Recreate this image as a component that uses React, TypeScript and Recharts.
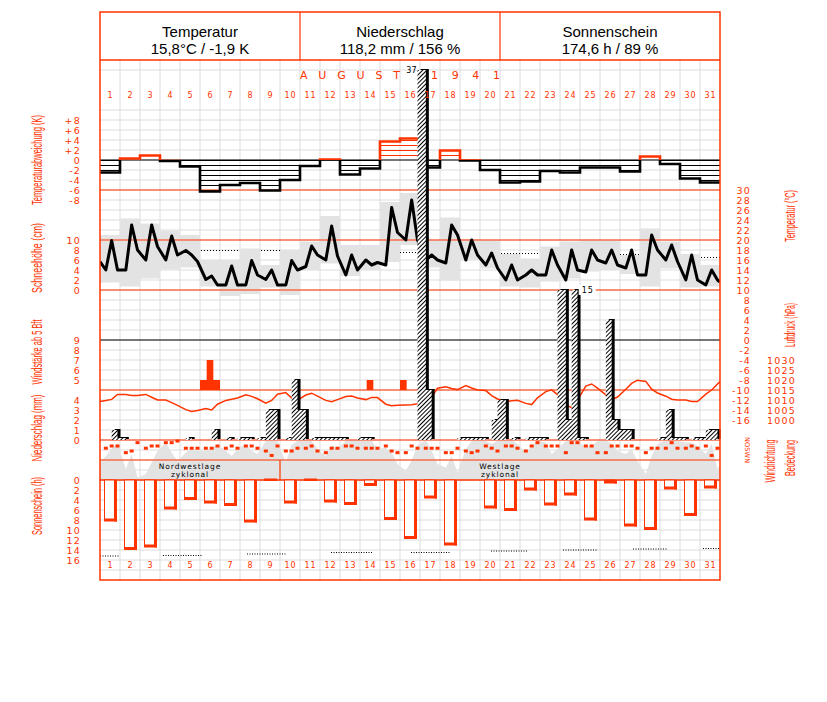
import React from 'react';
import {
  ComposedChart, BarChart, Bar, Area, Line, Scatter, XAxis, YAxis,
  CartesianGrid, ReferenceLine, ReferenceArea,
} from 'recharts';

const RED = '#ff3300';
const GREY = '#e3e3e3';
const GRID = '#dcdcdc';
const W = 827;
const H = 702;
const MARGIN = { top: 60, right: 107, bottom: 122, left: 100 };
const SANS = '"Liberation Sans", Arial, sans-serif';
const PIX = '"DejaVu Sans", sans-serif';

// ---------------- data ----------------
const days = ['1', '2', '3', '4', '5', '6', '7', '8', '9', '10', '11', '12', '13', '14', '15', '16',
  '17', '18', '19', '20', '21', '22', '23', '24', '25', '26', '27', '28', '29', '30', '31'];

const header = [
  { title: 'Temperatur', value: '15,8°C / -1,9 K', cx: 200 },
  { title: 'Niederschlag', value: '118,2 mm / 156 %', cx: 400 },
  { title: 'Sonnenschein', value: '174,6 h / 89 %', cx: 610 },
];
const monthName = 'AUGUST';
const yearName = '1941';

// daily temperature anomaly (K)
const anomalyK = [-2.5, 0.3, 0.9, -0.2, -1.3, -6.3, -5.0, -4.6, -6.1, -4.0, -1.2, 0.1, -2.9, -1.7, 3.7, 4.3,
  -1.5, 1.9, -0.1, -2.0, -4.5, -4.3, -2.2, -2.5, -1.5, -1.5, -2.3, 0.7, -0.8, -3.7, -4.5];

// temperature readings 7h / 14h / 21h (°C)
const tempStart = 15.7;
const tempObs = [
  [14, 19.9, 14], [14, 23, 18], [16, 23, 18.7], [16, 20.8, 17], [17.9, 17, 15.7],
  [12.1, 12.8, 11], [11, 14.8, 11], [11, 15.9, 13], [12.1, 14, 11], [11, 15.9, 14],
  [14.7, 18.8, 17], [16, 22.8, 16.8], [13, 17, 14], [16, 15, 15.5], [15, 26.5, 21.5],
  [20, 28, 20], [16, 17, 16], [15.4, 23, 21], [16, 20, 17], [15, 17.4, 14.4],
  [12, 15, 12], [13, 14, 13], [13, 18, 15], [12, 18, 14], [13.6, 18, 16],
  [15.4, 18, 15], [14.4, 18, 13], [13, 21, 18], [16, 19, 15.7], [12, 17, 12],
  [11, 14, 12],
];
const tempEnd = 11.6;

// daily min / max (°C)
const tempRange = [
  [11.5, 21], [10.7, 24.3], [12.3, 23.3], [14.1, 21.9], [14.5, 21], [10.7, 16], [8.8, 16],
  [9.2, 18.3], [10.5, 15], [9, 18], [14, 19.7], [15.3, 24.8], [12.8, 19], [14, 19],
  [15.6, 27.6], [19, 29.4], [14.5, 20], [11.9, 24.5], [16, 20.1], [14.3, 20], [10.7, 17.2],
  [10.5, 16.3], [11.7, 18.7], [12.3, 19.7], [13.7, 20.1], [14, 20], [13.2, 17], [10.7, 22.3],
  [14.3, 19.7], [10.5, 17.2], [10.7, 15],
];

// long-term daily mean temperature (°C)
const tempNormal = [18.1, 18.1, 18.1, 18.1, 18.1, 17.9, 17.9, 17.9, 17.9, 17.9, 17.8, 17.8, 17.8, 17.8,
  17.8, 17.5, 17.5, 17.5, 17.5, 17.5, 17.3, 17.3, 17.3, 17.1, 17.1, 17.1, 17.1, 16.7, 16.7, 16.7, 16.5];

// precipitation per observation interval: 21h(prev)-7h, 7h-14h, 14h-21h (mm)
const precipMm = [
  [0, 0, 1.0], [0.2, 0, 0], [0, 0, 0], [0, 0, 0], [0, 0.2, 0], [0, 0, 1.0], [0, 0.2, 0],
  [0.2, 0.2, 0], [0.2, 3, 3], [0, 0.2, 6], [3, 0, 0.2], [0.2, 0.2, 0.2], [0.2, 0, 0], [0.2, 0.2, 0],
  [0, 0, 0], [0, 0, 0], [37, 5, 0], [0, 0, 0], [0.2, 0.2, 0.2], [0.2, 0, 2], [4, 0, 0.2],
  [0, 0.2, 0.2], [0.2, 0, 0], [15, 2, 15], [0.2, 0, 0], [0, 12, 2], [1, 1, 0], [0, 0, 0],
  [0.2, 3, 0.2], [0.2, 0, 0.2], [0.2, 1, 1],
];
const precipLabels = [
  { day: 17, slot: 0, side: 'left' },
  { day: 24, slot: 2, side: 'right' },
];

// wind force >= 5 Bft, per third of day
const windBft = [
  [0, 0, 0], [0, 0, 0], [0, 0, 0], [0, 0, 0], [0, 0, 0], [5, 7, 5], [0, 0, 0], [0, 0, 0],
  [0, 0, 0], [0, 0, 0], [0, 0, 0], [0, 0, 0], [0, 0, 0], [0, 5, 0], [0, 0, 0], [5, 0, 0],
  [0, 0, 0], [0, 0, 0], [0, 0, 0], [0, 0, 0], [0, 0, 0], [0, 0, 0], [0, 0, 0], [0, 0, 0],
  [0, 0, 0], [0, 0, 0], [0, 0, 0], [0, 0, 0], [0, 0, 0], [0, 0, 0], [0, 0, 0],
];

// air pressure 7h / 14h / 21h (hPa)
const pressStart = 1009.2;
const pressureHpa = [
  [1009.7, 1010.3, 1012.8], [1012.8, 1012.3, 1012.2], [1012.8, 1011.4, 1010], [1010, 1008.7, 1007.3],
  [1005.2, 1004.3, 1004.8], [1005.7, 1005, 1007.9], [1009.8, 1010.4, 1011], [1012.6, 1011.8, 1010.6],
  [1008.4, 1009.8, 1012.9], [1013.7, 1011, 1009.9], [1012.5, 1013.4, 1011.9], [1009.8, 1009.1, 1010.2],
  [1011.7, 1012, 1011], [1010.2, 1011.3, 1011.2], [1007.9, 1007.1, 1007.4], [1007.5, 1007.6, 1008.1],
  [1009.3, 1011.4, 1015.9], [1016.6, 1015.8, 1015.2], [1017.2, 1016, 1015], [1014.7, 1012.2, 1010.5],
  [1009.3, 1009.6, 1009.9], [1008.3, 1007.7, 1011.1], [1014.2, 1015.1, 1012.7], [1007.8, 1006.1, 1010],
  [1017, 1018, 1015.9], [1012.6, 1010.2, 1011.5], [1015.4, 1018.3, 1019.9], [1019.3, 1015.4, 1013.5],
  [1011.9, 1010.4, 1010], [1010, 1009.3, 1009.2], [1012.9, 1015, 1018],
];
const pressEnd = 1019.2;

// cloud cover 7h / 14h / 21h (octas)
const cloudStart = 3.5;
const cloudOcta = [
  [4.8, 6.2, 7.4], [2.2, 5.2, 0.5], [1.2, 3.5, 5.8], [7.5, 5.5, 3.8], [5.5, 6.2, 5.8],
  [5.8, 6.5, 7], [5.8, 4.8, 6.2], [7.2, 5.8, 5.2], [7.8, 8, 7.8], [3.5, 7, 7.8],
  [8, 7.8, 6.2], [4.8, 7, 6.2], [7.8, 8, 8], [7.8, 7.8, 6.2], [6.5, 5.5, 3.2],
  [1.8, 4, 7], [8, 5.8, 3.2], [2.5, 4.8, 1.5], [6.2, 7.8, 8], [7.8, 7.2, 7.8],
  [8, 8, 7.2], [5.5, 6.8, 7.8], [7.5, 5.2, 6.2], [7.8, 8, 7.8], [6.5, 6.8, 7.8],
  [8, 7.2, 5.8], [5.2, 6.2, 3.8], [1.2, 4.8, 7.2], [8, 8, 7.8], [7.5, 7.5, 6.8],
  [5.2, 7.2, 2.2],
];
const cloudEnd = 3.0;

// wind direction 7h / 14h / 21h (degrees)
const windDirDeg = [
  [130, 90, 90], [210, 180, 30], [130, 90, 90], [30, 30, 0], [130, 130, 130], [130, 130, 90],
  [130, 90, 130], [90, 90, 130], [180, 260, 90], [180, 180, 130], [130, 90, 180], [210, 130, 130],
  [90, 90, 130], [130, 130, 130], [90, 180, 210], [210, 90, 130], [130, 130, 130], [210, 210, 130],
  [180, 210, 180], [90, 130, 180], [90, 90, 130], [180, 90, 30], [90, 90, 90], [210, 30, 30],
  [90, 90, 210], [210, 90, 90], [90, 90, 130], [210, 130, 130], [130, 30, 130], [130, 90, 130],
  [90, 260, 130],
];

// sunshine duration (h)
const sunshineH = [8.3, 14, 13.5, 5.9, 4, 4.7, 5.2, 8.5, 0.2, 4.7, 0.2, 4.5, 5, 1.2, 8, 11.8, 3.7,
  13.1, 0, 5.7, 6.2, 2.1, 5.1, 3.1, 8.1, 0.7, 9.3, 10, 1.9, 7.2, 1.7];

// astronomically possible sunshine, shown as dotted segments [from, to, h]
const sunPossible = [
  [0, 1, 15.2], [3.15, 5.15, 15.1], [7.35, 9.35, 14.8], [11.55, 13.6, 14.5], [15.55, 17.5, 14.5],
  [19.55, 21.4, 14.2], [23.15, 24.9, 14.0], [26.65, 28.4, 13.8], [30.15, 31, 13.7],
];

const weatherTypes = [
  { first: 1, last: 9, lines: ['Nordwestlage', 'zyklonal'] },
  { first: 10, last: 31, lines: ['Westlage', 'zyklonal'] },
];

// tick labels
const anomTicks = [8, 6, 4, 2, 0, -2, -4, -6, -8];
const snowTicks = [10, 8, 6, 4, 2, 0];
const windTicks = [9, 8, 7, 6, 5];
const precipTicks = [4, 3, 2, 1, 0];
const sunTicks = [0, 2, 4, 6, 8, 10, 12, 14, 16];
const tempTicks = [30, 28, 26, 24, 22, 20, 18, 16, 14, 12, 10, 8, 6, 4, 2, 0, -2, -4, -6, -8, -10, -12, -14, -16];
const pressTicks = [1030, 1025, 1020, 1015, 1010, 1005, 1000];
const dirLetters = 'NOSWN';

// ---------------- derived tables ----------------
const OBS_T = [7 / 24, 14 / 24, 21 / 24];
const PRECIP_T = [-3 / 24, 7 / 24, 14 / 24];

const obsPoints = (rows: number[][], first?: number, last?: number) => {
  const pts: any[] = [];
  if (first !== undefined) pts.push({ x: 0, v: first });
  rows.forEach((r, i) => r.forEach((v, k) => pts.push({ x: i + OBS_T[k], v })));
  if (last !== undefined) pts.push({ x: 31, v: last });
  return pts;
};
const dayStep = (vals: any[], key = 'v') => [
  ...vals.map((v, i) => ({ x: i, [key]: v })),
  { x: vals.length, [key]: vals[vals.length - 1] },
];

const tempPts = obsPoints(tempObs, tempStart, tempEnd);
const rangePts = dayStep(tempRange, 'r');
const normalPts = dayStep(tempNormal);
const anomPts = dayStep(anomalyK);
const pressPts = obsPoints(pressureHpa, pressStart, pressEnd);
const cloudPts = obsPoints(cloudOcta, cloudStart, cloudEnd);
const dirPts = obsPoints(windDirDeg);
const precipPts: any[] = [];
precipMm.forEach((r, i) => r.forEach((v, k) => precipPts.push({ x: i + PRECIP_T[k], v })));
precipPts.push({ x: 30 + 21 / 24, v: 0 });
const windPts: any[] = [];
windBft.forEach((r, i) => r.forEach((v, k) => windPts.push({ x: i + k / 3, v })));
windPts.push({ x: 31, v: 0 });
const labelPts = precipLabels.map((l) => ({
  x: l.day - 1 + PRECIP_T[l.slot],
  v: precipMm[l.day - 1][l.slot],
  text: String(precipMm[l.day - 1][l.slot]),
  side: l.side,
}));
const sunPossPts: any[] = [];
sunPossible.forEach(([a, b, h]) => {
  sunPossPts.push({ x: a, v: h }, { x: b, v: h }, { x: b + 0.01, v: null });
});
const sunData = days.map((d, i) => ({ day: d, h: sunshineH[i] }));

const gridX = Array.from({ length: 30 }, (_, i) => i + 1);
const gridY = [...Array.from({ length: 47 }, (_, i) => i + 1), 51];

// ---------------- axes ----------------
const AX: any = {
  anom: { d: [-84, 20] },
  temp: { d: [-48, 56] },
  snow: { d: [-58, 46] },
  wind: { d: [-15, 37] },
  precip: { d: [-14, 38] },
  press: { d: [920, 1180] },
  sun: { d: [-84, 20], r: true },
  cloud: { d: [-20, 84] },
  wdir: { d: [-6858, 2502], r: true },
  grid: { d: [0, 52] },
};
const xNum = <XAxis xAxisId={0} type="number" dataKey="x" domain={[0, 31]} allowDataOverflow hide />;
const yHid = (id: string) => (
  <YAxis key={id} yAxisId={id} type="number" domain={AX[id].d} reversed={!!AX[id].r} allowDataOverflow hide />
);

const makeTick = (fmt = (v: number) => String(v)) => (p: any) => (
  <text x={p.x} y={p.y} dy={3.5} textAnchor="end" fontSize={9.5} fontFamily={PIX} letterSpacing={1.2} fill={RED}>
    {fmt(p.payload.value)}
  </text>
);

const TickLayer = ({ left, right }: any) => {
  const margin = {
    top: 60,
    bottom: 122,
    left: left ? 99 : 100,
    right: right ? 106 : 107,
  };
  const mk = (cfg: any, side: 'left' | 'right') => (
    <YAxis
      yAxisId={side}
      type="number"
      domain={AX[cfg.id].d}
      reversed={!!AX[cfg.id].r}
      allowDataOverflow
      orientation={side}
      width={1}
      ticks={cfg.ticks}
      interval={0}
      axisLine={false}
      tickLine={false}
      tickSize={0}
      tickMargin={cfg.margin}
      tick={makeTick(cfg.fmt)}
    />
  );
  return (
    <Layer>
      <ComposedChart width={W} height={H} margin={margin}>
        {xNum}
        {left ? mk(left, 'left') : null}
        {right ? mk(right, 'right') : null}
        <Line data={[{ x: 0, g: 0 }, { x: 31, g: 0 }]} dataKey="g" yAxisId={left ? 'left' : 'right'}
          stroke="none" dot={false} isAnimationActive={false} />
      </ComposedChart>
    </Layer>
  );
};

const dayTick = (dy: number) => (p: any) => (
  <text x={p.x + 0.5} y={p.y + dy} textAnchor="middle" fontSize={8} fontFamily={PIX} letterSpacing={0.8} fill={RED}>
    {p.payload.value}
  </text>
);

// ---------------- shapes ----------------
const SunBar = (p: any) => {
  const { x, y, width, height } = p;
  const top = Math.min(y, y + height);
  const h = Math.abs(height);
  if (!h) return <g />;
  const t = 2.5;
  return (
    <g>
      <rect x={x + 0.5} y={top} width={width - t - 0.5} height={Math.max(h - t, 0)} fill="#fff" stroke={RED} strokeWidth={1} />
      <rect x={x + width - t} y={top} width={t} height={h} fill={RED} />
      <rect x={x} y={top + h - t} width={width} height={t} fill={RED} />
    </g>
  );
};
const DirDot = (p: any) => <rect x={p.cx - 2} y={p.cy - 1.5} width={4} height={3} fill={RED} />;
const PrecipLabel = (p: any) => {
  const { cx, cy, payload } = p;
  if (payload.side === 'left') {
    return (
      <text x={cx - 1} y={cy + 3} textAnchor="end" fontSize={8} fontFamily={PIX} fill="#000">{payload.text}</text>
    );
  }
  return (
    <g>
      <rect x={cx + 7} y={cy - 5} width={17} height={10} fill="#fff" />
      <text x={cx + 10} y={cy + 3} fontSize={8} fontFamily={PIX} letterSpacing={1} fill="#000">{payload.text}</text>
    </g>
  );
};
const WeatherLabel = (p: any) => {
  const { viewBox, lines } = p;
  const cx = viewBox.x + viewBox.width / 2;
  const cy = viewBox.y + viewBox.height / 2;
  return (
    <text x={cx} y={cy} textAnchor="middle" fontSize={7.5} fontFamily={PIX} letterSpacing={0.9} fill="#000">
      <tspan x={cx} dy={-1.5}>{lines[0]}</tspan>
      <tspan x={cx} dy={8}>{lines[1]}</tspan>
    </text>
  );
};

const Layer = ({ children, dx = 0, dy = 0 }: any) => (
  <div style={{ position: 'absolute', left: dx, top: dy, width: W, height: H }}>{children}</div>
);

const scaleOr = (axis: any, fallback: (t: number) => number) =>
  (axis && typeof axis.scale === 'function' ? (t: number) => axis.scale(t) : fallback);

const titleLeft = [
  { t: 'Temperaturabweichung (K)', cy: 160, len: 90 },
  { t: 'Schneehöhe (cm)', cy: 258, len: 70 },
  { t: 'Windstärke ab 5 Bft', cy: 352, len: 65 },
  { t: 'Niederschlag (mm)', cy: 428, len: 67 },
  { t: 'Sonnenschein (h)', cy: 506, len: 58 },
];
const titleRight = [
  { t: 'Temperatur (°C)', x: 795, cy: 216, len: 52 },
  { t: 'Luftdruck (hPa)', x: 795, cy: 325, len: 44 },
  { t: 'Windrichtung', x: 775, cy: 461, len: 43 },
  { t: 'Bedeckung', x: 795, cy: 458, len: 36 },
];

export default function App() {
  return (
    <div style={{ position: 'absolute', left: 0, top: 0, width: W, height: H, background: '#fff' }}>
      {/* grid */}
      <Layer>
        <ComposedChart width={W} height={H} margin={MARGIN}>
          {xNum}
          {yHid('grid')}
          <CartesianGrid
            xAxisId={0}
            yAxisId="grid"
            stroke={GRID}
            strokeWidth={1}
            verticalCoordinatesGenerator={(p: any) => {
              const f = scaleOr(p.xAxis, (t) => p.offset.left + (t * p.offset.width) / 31);
              return gridX.map((t) => f(t));
            }}
            horizontalCoordinatesGenerator={(p: any) => {
              const f = scaleOr(p.yAxis, (t) => p.offset.top + p.offset.height - (t * p.offset.height) / 52);
              return gridY.map((t) => f(t));
            }}
          />
          <Line data={[{ x: 0, g: -5 }, { x: 31, g: -5 }]} dataKey="g" yAxisId="grid" stroke="none" dot={false} isAnimationActive={false} />
        </ComposedChart>
      </Layer>

      {/* normal temperature (dotted) */}
      <Layer>
        <ComposedChart width={W} height={H} margin={MARGIN}>
          {xNum}
          {yHid('temp')}
          <Line data={normalPts} dataKey="v" yAxisId="temp" type="stepAfter" stroke="#000" strokeWidth={1}
            strokeDasharray="1 2" dot={false} isAnimationActive={false} />
        </ComposedChart>
      </Layer>

      {/* grey boxes, cloud cover */}
      <Layer>
        <ComposedChart width={W} height={H} margin={MARGIN}>
          {xNum}
          {yHid('temp')}
          {yHid('cloud')}
          <Area data={rangePts} dataKey="r" yAxisId="temp" type="stepAfter" fill={GREY} fillOpacity={1}
            stroke="none" isAnimationActive={false} />
          <Area data={cloudPts} dataKey="v" yAxisId="cloud" type="linear" baseValue={0} fill={GREY}
            fillOpacity={1} stroke="none" isAnimationActive={false} />
        </ComposedChart>
      </Layer>

      {/* anomaly fills */}
      <Layer>
        <ComposedChart width={W} height={H} margin={MARGIN}>
          <defs>
            <pattern id="hRed" patternUnits="userSpaceOnUse" width={10} height={5}>
              <rect x={0} y={0} width={10} height={1} fill={RED} />
            </pattern>
            <pattern id="hBlack" patternUnits="userSpaceOnUse" width={10} height={5}>
              <rect x={0} y={0} width={10} height={1} fill="#000" />
            </pattern>
          </defs>
          {xNum}
          {yHid('anom')}
          <Area data={anomPts} dataKey={(d: any) => Math.max(d.v, 0)} yAxisId="anom" type="stepAfter" baseValue={0}
            fill="url(#hRed)" fillOpacity={1} stroke="none" isAnimationActive={false} />
          <Area data={anomPts} dataKey={(d: any) => Math.min(d.v, 0)} yAxisId="anom" type="stepAfter" baseValue={0}
            fill="url(#hBlack)" fillOpacity={1} stroke="none" isAnimationActive={false} />
        </ComposedChart>
      </Layer>

      {/* panel lines */}
      <Layer>
        <ComposedChart width={W} height={H} margin={MARGIN}>
          {xNum}
          {yHid('anom')}
          {yHid('temp')}
          {yHid('precip')}
          {yHid('cloud')}
          <Line data={[{ x: 0, g: 0 }, { x: 31, g: 0 }]} dataKey="g" yAxisId="anom" stroke="none" dot={false} isAnimationActive={false} />
          <ReferenceLine y={0} yAxisId="anom" stroke="#000" strokeWidth={1} />
          <ReferenceLine y={30} yAxisId="temp" stroke={RED} strokeWidth={1.2} />
          <ReferenceLine y={20} yAxisId="temp" stroke={RED} strokeWidth={1.2} />
          <ReferenceLine y={10} yAxisId="temp" stroke={RED} strokeWidth={1.2} />
          <ReferenceLine y={0} yAxisId="temp" stroke="#000" strokeWidth={1.2} />
          <ReferenceLine y={5} yAxisId="precip" stroke={RED} strokeWidth={1.2} />
          <ReferenceLine y={0} yAxisId="precip" stroke={RED} strokeWidth={1.2} />
          <ReferenceLine y={4} yAxisId="cloud" stroke={RED} strokeWidth={1.2} />
          <ReferenceLine y={0} yAxisId="cloud" stroke={RED} strokeWidth={1.5} />
          {weatherTypes.slice(1).map((w) => (
            <ReferenceLine key={w.first} yAxisId="cloud" stroke={RED} strokeWidth={1.2}
              segment={[{ x: w.first - 1, y: 0 }, { x: w.first - 1, y: 4 }]} />
          ))}
          {weatherTypes.map((w) => (
            <ReferenceArea key={`a${w.first}`} yAxisId="cloud" x1={w.first - 1} x2={w.last} y1={0} y2={4}
              fill="none" stroke="none" label={<WeatherLabel lines={w.lines} />} />
          ))}
        </ComposedChart>
      </Layer>

      {/* anomaly outline */}
      <Layer>
        <ComposedChart width={W} height={H} margin={MARGIN}>
          <defs>
            <linearGradient id="anomStroke" gradientUnits="userSpaceOnUse" x1={0} y1={60} x2={0} y2={580}>
              <stop offset={0.1923} stopColor={RED} />
              <stop offset={0.1923} stopColor="#000" />
            </linearGradient>
          </defs>
          {xNum}
          {yHid('anom')}
          <Line data={anomPts} dataKey="v" yAxisId="anom" type="stepAfter" stroke="url(#anomStroke)"
            strokeWidth={2.6} dot={false} isAnimationActive={false} />
        </ComposedChart>
      </Layer>

      {/* temperature, pressure, wind */}
      <Layer>
        <ComposedChart width={W} height={H} margin={MARGIN}>
          {xNum}
          {yHid('temp')}
          {yHid('press')}
          {yHid('wind')}
          <Area data={windPts} dataKey={(d: any) => Math.max(d.v, 4)} yAxisId="wind" type="stepAfter" baseValue={4}
            fill={RED} fillOpacity={1} stroke="none" isAnimationActive={false} />
          <Line data={pressPts} dataKey="v" yAxisId="press" type="linear" stroke={RED} strokeWidth={1.5}
            dot={false} isAnimationActive={false} />
          <Line data={tempPts} dataKey="v" yAxisId="temp" type="linear" stroke="#000" strokeWidth={3}
            strokeLinejoin="round" dot={false} isAnimationActive={false} />
        </ComposedChart>
      </Layer>

      {/* precipitation shadow */}
      <Layer dx={2.5} dy={-1}>
        <ComposedChart width={W} height={H} margin={MARGIN}>
          {xNum}
          {yHid('precip')}
          <Area data={precipPts} dataKey="v" yAxisId="precip" type="stepAfter" baseValue={0} fill="#000"
            fillOpacity={1} stroke="none" isAnimationActive={false} />
        </ComposedChart>
      </Layer>

      {/* precipitation hatched */}
      <Layer>
        <ComposedChart width={W} height={H} margin={MARGIN}>
          <defs>
            <pattern id="hatch" patternUnits="userSpaceOnUse" width={3} height={3} patternTransform="rotate(45)">
              <rect x={0} y={0} width={3} height={3} fill="#fff" />
              <rect x={0} y={0} width={1} height={3} fill="#000" />
            </pattern>
          </defs>
          {xNum}
          {yHid('precip')}
          <Area data={precipPts} dataKey="v" yAxisId="precip" type="stepAfter" baseValue={0} fill="url(#hatch)"
            fillOpacity={1} stroke="none" isAnimationActive={false} />
          <Scatter data={labelPts} dataKey="v" yAxisId="precip" shape={PrecipLabel} isAnimationActive={false} />
        </ComposedChart>
      </Layer>

      {/* sunshine bars + day numbers */}
      <Layer>
        <BarChart width={W} height={H} margin={{ top: 59, right: 107, bottom: 121, left: 100 }} data={sunData} barCategoryGap={0}>
          <XAxis xAxisId="top" dataKey="day" orientation="top" height={1} axisLine={false} tickLine={false}
            tickSize={0} tickMargin={0} interval={0} tick={dayTick(37.5)} />
          <XAxis xAxisId="bottom" dataKey="day" orientation="bottom" height={1} axisLine={false} tickLine={false}
            tickSize={0} tickMargin={0} interval={0} tick={dayTick(-12.3)} />
          <YAxis yAxisId="sun" type="number" domain={[-84, 20]} reversed allowDataOverflow hide />
          <Bar dataKey="h" xAxisId="bottom" yAxisId="sun" barSize={13} shape={SunBar} isAnimationActive={false} />
        </BarChart>
      </Layer>

      {/* possible sunshine, wind direction */}
      <Layer>
        <ComposedChart width={W} height={H} margin={MARGIN}>
          {xNum}
          {yHid('sun')}
          {yHid('wdir')}
          <Line data={sunPossPts} dataKey="v" yAxisId="sun" type="linear" stroke="#000" strokeWidth={1}
            strokeDasharray="1 1.5" dot={false} connectNulls={false} isAnimationActive={false} />
          <Scatter data={dirPts} dataKey="v" yAxisId="wdir" shape={DirDot} isAnimationActive={false} />
        </ComposedChart>
      </Layer>

      {/* tick labels */}
      <TickLayer
        left={{ id: 'anom', ticks: anomTicks, margin: 19, fmt: (v: number) => (v > 0 ? `+${v}` : `${v}`) }}
        right={{ id: 'temp', ticks: tempTicks, margin: 31 }}
      />
      <TickLayer left={{ id: 'snow', ticks: snowTicks, margin: 19 }} right={{ id: 'press', ticks: pressTicks, margin: 76 }} />
      <TickLayer left={{ id: 'wind', ticks: windTicks, margin: 19 }} />
      <TickLayer left={{ id: 'precip', ticks: precipTicks, margin: 19 }} />
      <TickLayer left={{ id: 'sun', ticks: sunTicks, margin: 19 }} />

      {/* frame, header, titles */}
      <svg width={W} height={H} style={{ position: 'absolute', left: 0, top: 0, pointerEvents: 'none' }}>
        <rect x={100} y={12} width={620} height={568} fill="none" stroke={RED} strokeWidth={1.5} />
        <line x1={100} y1={60} x2={720} y2={60} stroke={RED} strokeWidth={1.5} />
        <line x1={300} y1={12} x2={300} y2={60} stroke={RED} strokeWidth={1.2} />
        <line x1={500} y1={12} x2={500} y2={60} stroke={RED} strokeWidth={1.2} />
        {header.map((h) => (
          <g key={h.title} fontFamily={SANS} fontSize={15} fill="#000" textAnchor="middle">
            <text x={h.cx} y={37}>{h.title}</text>
            <text x={h.cx} y={54}>{h.value}</text>
          </g>
        ))}
        <text x={300} y={79} textLength={100} lengthAdjust="spacing" fontSize={11} fontFamily={PIX} fill={RED}>
          {monthName}
        </text>
        <text x={431} y={79} textLength={69} lengthAdjust="spacing" fontSize={11} fontFamily={PIX} fill={RED}>
          {yearName}
        </text>
        {titleLeft.map((t) => (
          <text key={t.t} transform={`translate(42, ${t.cy}) rotate(-90)`} textAnchor="middle" fontSize={14}
            fontFamily={SANS} fill={RED} textLength={t.len} lengthAdjust="spacingAndGlyphs">{t.t}</text>
        ))}
        {titleRight.map((t) => (
          <text key={t.t} transform={`translate(${t.x}, ${t.cy}) rotate(-90)`} textAnchor="middle" fontSize={14}
            fontFamily={SANS} fill={RED} textLength={t.len} lengthAdjust="spacingAndGlyphs">{t.t}</text>
        ))}
        <text transform="translate(745, 437) rotate(90)" fontSize={6.5} fontFamily={PIX} fill={RED}
          textLength={26} lengthAdjust="spacing">{dirLetters}</text>
      </svg>
    </div>
  );
}
